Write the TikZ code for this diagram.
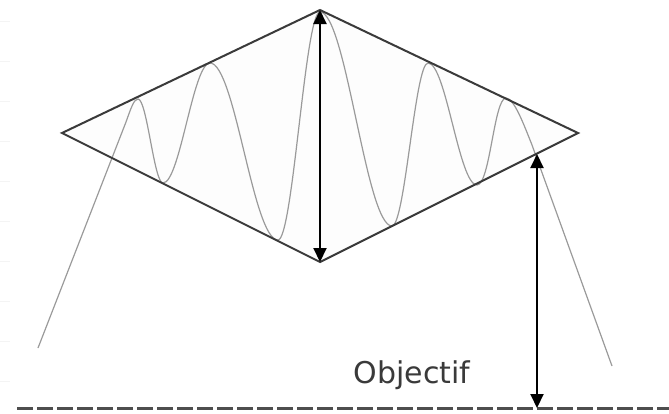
\documentclass[tikz,border=0pt]{standalone}
\usepackage{fontspec}
\usepackage{tikz}
\usetikzlibrary{arrows.meta,calc}
\newfontfamily\labelfont{DejaVu Sans}
\definecolor{edgegray}{HTML}{3A3A3A}
\definecolor{wavegray}{HTML}{9A9A9A}
\definecolor{tickgray}{HTML}{F4F4F4}
\tikzset{
  edgeline/.style={line width=2pt, edgegray, line join=miter},
  waveline/.style={line width=1.2pt, wavegray},
  measure/.style={line width=2pt, black, arrows={Triangle[width=13pt,length=14pt]-Triangle[width=13pt,length=14pt]}},
  baseline/.style={line width=2.4pt, edgegray!90, dash pattern=on 16pt off 4pt}
}

\begin{document}
\begin{tikzpicture}[x=1pt,y=-1pt]
        \useasboundingbox (0,0) rectangle (669,413);
        \foreach \y in {21,61,...,381} {
          \draw[tickgray, line width=1pt] (0,\y) -- (10,\y);
        }
        \coordinate (left) at (62,133);
        \coordinate (top) at (320,10);
        \coordinate (right) at (578,133);
        \coordinate (bottom) at (320,262);
        \coordinate (cross) at (537,154);
        \coordinate (base) at (537,408);
        \fill[black!0.6] (left) -- (top) -- (right) -- (bottom) -- cycle;
        \draw[waveline] (38,348) -- (126,122) .. controls (131,108) and (134,99) .. (138,99)
          .. controls (147,99) and (154,183) .. (163,183)
          .. controls (180,183) and (193,63) .. (210,63)
          .. controls (235,63) and (253,240) .. (278,240)
          .. controls (293,240) and (305,12) .. (320,12)
          .. controls (346,12) and (366,226) .. (392,226)
          .. controls (405,226) and (415,63) .. (428,63)
          .. controls (446,63) and (459,185) .. (477,185)
          .. controls (490,185) and (494,98) .. (506,98)
          .. controls (514,98) and (524,125) .. (532,145) -- (612,366);
        \draw[edgeline] (left) -- (top) -- (right) -- (bottom) -- cycle;
        \draw[baseline] (17,408.5) -- (669,408.5);
        \draw[measure] (top) -- (bottom);
        \draw[measure] (cross) -- (base);
        \node[anchor=base, inner sep=0pt, text=edgegray, font=\labelfont\fontsize{30}{32}\selectfont] (target) at (412,383) {Objectif};
      \end{tikzpicture}
\end{document}
